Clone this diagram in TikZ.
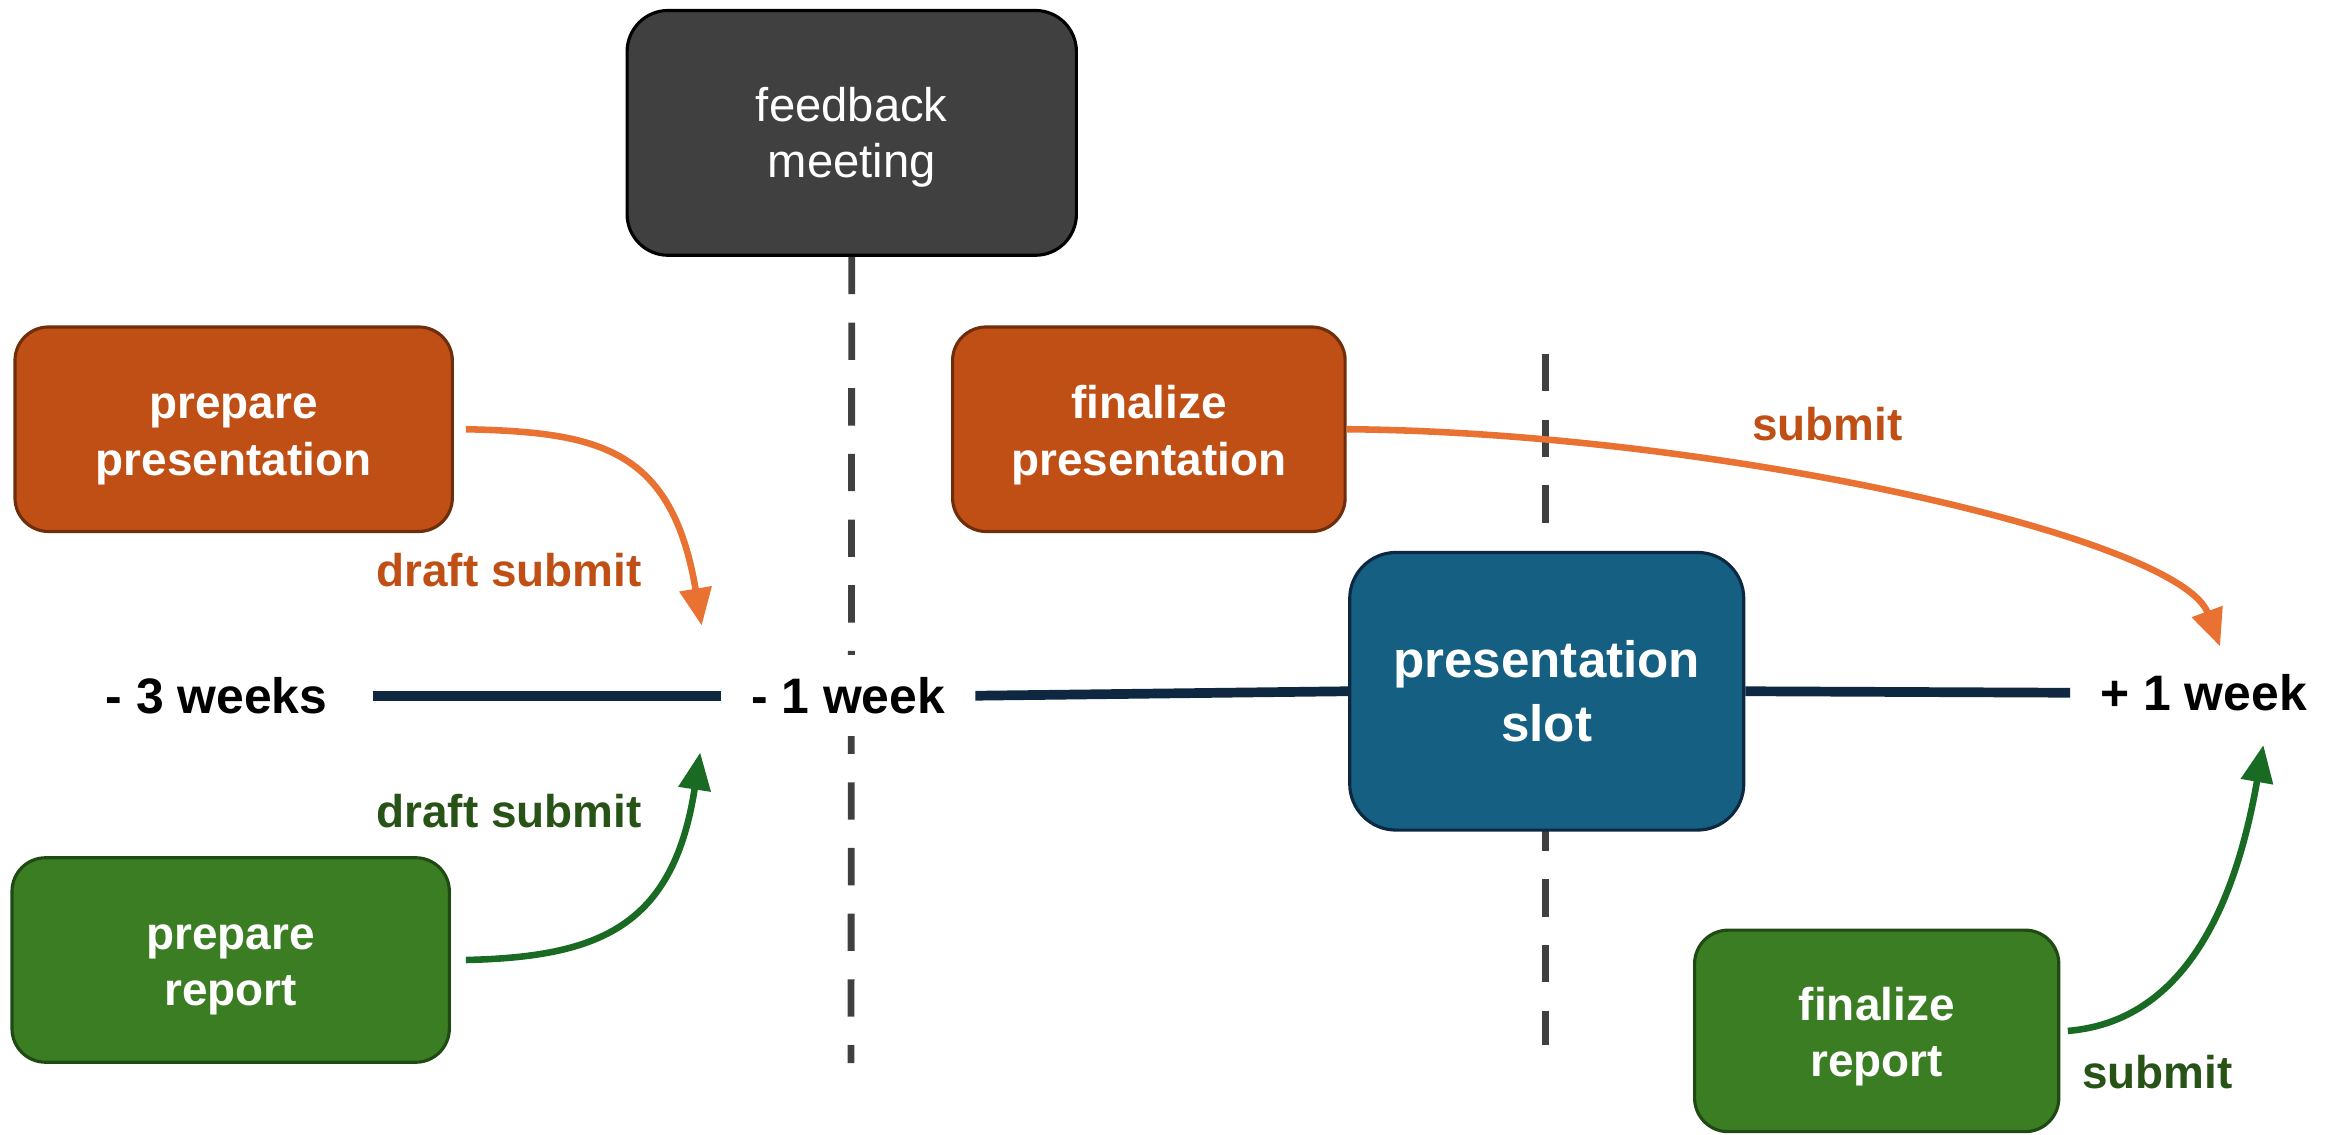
\documentclass[tikz,border=0pt]{standalone}
\usepackage{fontspec}
\setmainfont{Liberation Sans}
\usetikzlibrary{arrows.meta}

\definecolor{orfill}{HTML}{C04F15}
\definecolor{ordraw}{HTML}{6E2E0C}
\definecolor{orarrow}{HTML}{E97132}
\definecolor{grfill}{HTML}{3B7D23}
\definecolor{grdraw}{HTML}{1F4A14}
\definecolor{grarrow}{HTML}{196B24}
\definecolor{grtext}{HTML}{275317}
\definecolor{slotfill}{HTML}{156082}
\definecolor{navy}{HTML}{0E2841}
\definecolor{darkgray}{HTML}{404040}

\begin{document}
\begin{tikzpicture}[x=0.02cm, y=-0.02cm,
  box/.style={draw, rounded corners=0.45cm, line width=1.2pt, text=white, align=center, minimum height=2.74cm, font=\fontsize{17.5}{21.6}\selectfont\bfseries},
  orbox/.style={box, fill=orfill, draw=ordraw, execute at begin node={\rule{0pt}{38.7pt}}},
  grbox/.style={box, fill=grfill, draw=grdraw, execute at begin node={\rule{0pt}{38.7pt}}},
  weeklabel/.style={font=\fontsize{19}{22}\selectfont\bfseries, inner xsep=0.4cm, inner ysep=0.3cm},
  arrowlabel/.style={font=\fontsize{17.5}{21}\selectfont\bfseries},
  flow/.style={line width=2.5pt, -{Triangle[length=0.5cm, width=0.42cm]}},
  divider/.style={draw=darkgray, line width=2.6pt, dash pattern=on 0.5cm off 0.38cm},
  timeline/.style={draw=navy, line width=0.13cm}
]
\useasboundingbox (0,0) rectangle (1568,760);

% Feedback meeting and dividers
\node[box, fill=darkgray, draw=black, rounded corners=0.55cm, minimum width=6.02cm, minimum height=3.28cm, font=\fontsize{18}{21.6}\selectfont, execute at begin node={\rule{0pt}{38.1pt}}] (meet) at (570.5, 89) {feedback\\meeting};
\coordinate (meetend) at (570, 712);
\coordinate (slottop) at (1035, 237);
\coordinate (slotend) at (1035, 700);
\draw[divider] (meet.south) -- (meetend);
\draw[divider] (slottop) -- (slotend);

% Timeline
\node[weeklabel] (m3) at (145, 466) {- 3 weeks};
\node[weeklabel, fill=white] (m1) at (568, 466) {- 1 week};
\node[weeklabel] (p1) at (1476, 464) {+ 1 week};
\node[box, fill=slotfill, draw=navy, rounded corners=0.62cm, minimum width=5.28cm, minimum height=3.72cm, font=\fontsize{19.5}{24.5}\selectfont\bfseries] (slot) at (1036, 463) {presentation\\slot};
\draw[timeline, shorten <=0.2cm] (m3.east) -- (m1.west);
\draw[timeline] (m1.east) -- (slot.west);
\draw[timeline] (slot.east) -- (p1.west);

% Tasks
\node[orbox, minimum width=5.86cm] (prepp) at (156.5, 287.5) {prepare\\presentation};
\node[grbox, minimum width=5.86cm] (prepr) at (154.5, 643) {prepare\\report};
\node[orbox, minimum width=5.26cm] (finp) at (769.5, 287.5) {finalize\\presentation};
\node[grbox, minimum width=4.88cm, minimum height=2.7cm] (finr) at (1257, 690.5) {finalize\\report};

% Submissions
\coordinate (draftp) at (470, 419);
\coordinate (draftr) at (469, 504);
\coordinate (finalp) at (1487, 433);
\coordinate (finalr) at (1516, 499);
\draw[flow, orarrow] ([xshift=0.16cm]prepp.east) .. controls +(89,2) and +(-20,-119) .. (draftp);
\draw[flow, grarrow] ([xshift=0.2cm]prepr.east) .. controls +(89,-2) and +(-18,117) .. (draftr);
\draw[flow, orarrow] (finp.east) .. controls +(247,2) and +(-27,-73) .. (finalp);
\draw[flow, grarrow] ([xshift=0.1cm]finr.east) .. controls +(86,-7) and +(-16,91) .. (finalr);

\node[arrowlabel, text=orfill] (lbdp) at (341, 382) {draft submit};
\node[arrowlabel, text=grtext] (lbdr) at (341, 543) {draft submit};
\node[arrowlabel, text=orfill] (lbfp) at (1224, 284) {submit};
\node[arrowlabel, text=grtext] (lbfr) at (1445, 718) {submit};

\end{tikzpicture}
\end{document}
